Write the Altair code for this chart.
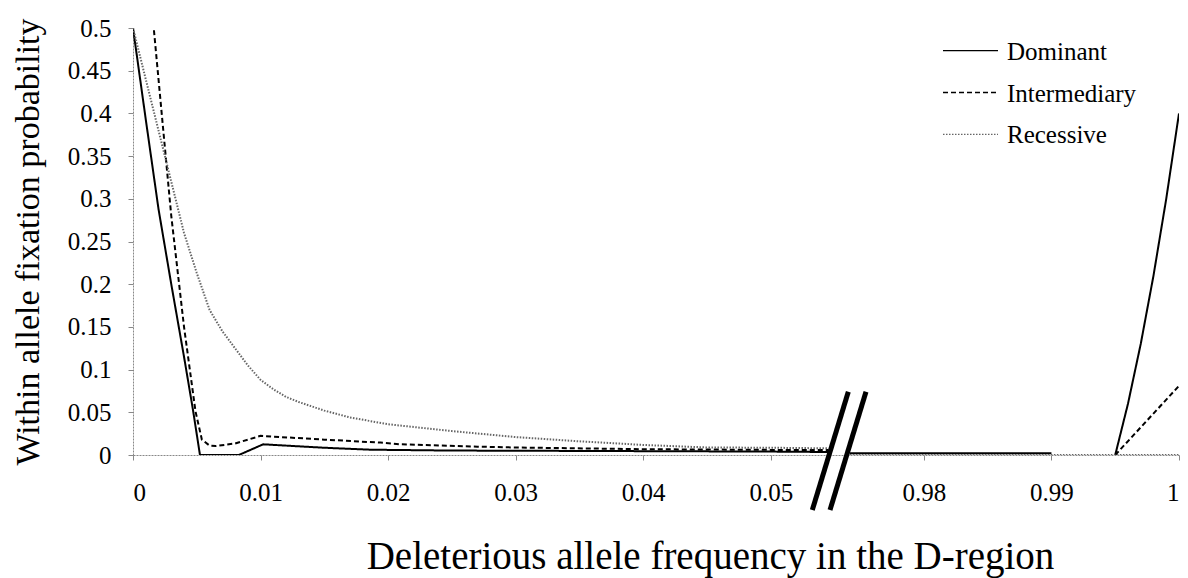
import altair as alt
import pandas as pd

series_names = ["Dominant", "Intermediary", "Recessive"]

# Dominant (solid)
dom_x = [0, 0.001, 0.002, 0.003, 0.004, 0.0047, 0.00525, 0.0083, 0.0102, 0.015, 0.0186,
         0.025, 0.03, 0.04, 0.05, 0.0545,
         0.9742, 0.99,
         0.995, 0.996, 0.997, 0.998, 0.999, 1.0]
dom_y = [0.5, 0.393, 0.288, 0.2, 0.115, 0.053, 0.0, 0.0, 0.0125, 0.0085, 0.0062,
         0.0052, 0.005, 0.0045, 0.004, 0.0035,
         0.002, 0.002,
         0.0, 0.06, 0.13, 0.21, 0.30, 0.40]
dom_seg = [0] * 16 + [1] * 2 + [2] * 6

# Intermediary (dashed)
int_x = [0.001, 0.002, 0.003, 0.004, 0.0049, 0.0054, 0.006, 0.0065, 0.008, 0.01, 0.015,
         0.0194, 0.021, 0.027, 0.03, 0.04, 0.05, 0.0545,
         0.995, 1.0]
int_y = [0.6, 0.44, 0.28, 0.15, 0.051, 0.018, 0.011, 0.0105, 0.0135, 0.0224, 0.018,
         0.0145, 0.0125, 0.0098, 0.0088, 0.0068, 0.006, 0.0058,
         0.0, 0.081]
int_seg = [0] * 18 + [2] * 2

# Recessive (dotted)
rec_x = [0, 0.001, 0.002, 0.003, 0.004, 0.005, 0.006, 0.007, 0.008, 0.009, 0.01, 0.011,
         0.012, 0.013, 0.015, 0.017, 0.02, 0.025, 0.03, 0.035, 0.04, 0.045, 0.05, 0.0545,
         0.9742, 1.0]
rec_y = [0.5, 0.44, 0.38, 0.32, 0.26, 0.213, 0.17, 0.145, 0.125, 0.105, 0.088, 0.077,
         0.068, 0.062, 0.052, 0.044, 0.036, 0.028, 0.021, 0.016, 0.0118, 0.0088, 0.0085, 0.0078,
         0.0, 0.0]
rec_seg = [0] * 24 + [1] * 2

x_ticks = [0, 0.01, 0.02, 0.03, 0.04, 0.05, 0.98, 0.99, 1.0]
y_ticks = [0, 0.05, 0.1, 0.15, 0.2, 0.25, 0.3, 0.35, 0.4, 0.45, 0.5]

BREAK_OFFSET = 0.918  # the axis jumps from 0.05 to 0.98 over 0.012 of scale

rows = []
for name, xs, ys, segs in [("Dominant", dom_x, dom_y, dom_seg),
                           ("Intermediary", int_x, int_y, int_seg),
                           ("Recessive", rec_x, rec_y, rec_seg)]:
    for x, y, s in zip(xs, ys, segs):
        rows.append({"series": name, "freq": x, "prob": y, "seg": s})
df = pd.DataFrame(rows)

tick_pos = [v - BREAK_OFFSET if v > 0.5 else v for v in x_ticks]

FONT = "Liberation Serif"

color_scale = alt.Scale(domain=series_names, range=["#000000", "#000000", "#666666"])
dash_scale = alt.Scale(domain=series_names, range=[[1, 0], [5, 3], [1.5, 1.5]])
width_scale = alt.Scale(domain=series_names, range=[2, 2, 1.2])

lines = alt.Chart(df).transform_calculate(
    xp=f"datum.freq > 0.5 ? datum.freq - {BREAK_OFFSET} : datum.freq"
).mark_line(clip=True).encode(
    x=alt.X("xp:Q", scale=alt.Scale(domain=[0, 0.082], nice=False, zero=False),
            axis=alt.Axis(values=tick_pos,
                          labelExpr=f"format(datum.value > 0.055 ? datum.value + {BREAK_OFFSET} : datum.value, '.2~f')",
                          title="Deleterious allele frequency in the D-region",
                          labelFont=FONT, labelFontSize=25, labelPadding=20,
                          titleFont=FONT, titleX=577, titleY=113, titleAlign="center",
                          titleBaseline="alphabetic", titleFontSize=39)),
    y=alt.Y("prob:Q", scale=alt.Scale(domain=[0, 0.5], nice=False),
            axis=alt.Axis(values=y_ticks, format=".2~f",
                          title="Within allele fixation probability",
                          labelFont=FONT, labelFontSize=25, labelPadding=17,
                          titleFont=FONT, titleX=-95, titleY=213.5,
                          titleAngle=270, titleAlign="center", titleBaseline="alphabetic",
                          titleFontSize=34)),
    color=alt.Color("series:N", scale=color_scale, legend=None),
    strokeDash=alt.StrokeDash("series:N", scale=dash_scale, legend=None),
    strokeWidth=alt.StrokeWidth("series:N", scale=width_scale, legend=None),
    detail="seg:N",
    order="freq:Q",
)

# manual legend (top right, inside the plot)
legend_df = pd.DataFrame({"series": series_names, "row": [0, 1, 2]})
leg_base = alt.Chart(legend_df).transform_calculate(ly="22.7 + 41.8 * datum.row")
leg_lines = leg_base.mark_rule(strokeWidth=1.3).encode(
    x=alt.value(810), x2=alt.value(865),
    y=alt.Y("ly:Q", scale=None),
    color=alt.Color("series:N", scale=color_scale, legend=None),
    strokeDash=alt.StrokeDash("series:N", scale=dash_scale, legend=None),
)
leg_text = leg_base.mark_text(align="left", baseline="middle", font=FONT, fontSize=25,
                              color="black", dy=1).encode(
    x=alt.value(874), y=alt.Y("ly:Q", scale=None), text="series:N",
)

# axis-break decoration (pixel positions within the plot area)
brk = pd.DataFrame({"bx": [715.3, 733], "bx2": [679.3, 697], "by": [363.7, 363.7], "by2": [482, 482]})
breaks = alt.Chart(brk).mark_rule(color="black", strokeWidth=5, strokeCap="butt").encode(
    x=alt.X("bx:Q", scale=None), x2="bx2:Q",
    y=alt.Y("by:Q", scale=None), y2="by2:Q",
)

chart = alt.layer(lines, leg_lines, leg_text, breaks).properties(
    width=1046, height=427,
    autosize=alt.AutoSizeParams(type="none"),
    padding={"left": 133, "top": 28, "right": 9, "bottom": 123},
).configure(font=FONT).configure_view(stroke=None).configure_axis(
    grid=False, labelFont=FONT, titleFont=FONT, labelFontSize=25, labelColor="black",
    titleColor="black", titleFontWeight="normal", domainColor="#888888", domainDash=[2, 1],
    domainWidth=1, tickColor="#888888", tickSize=5, tickWidth=1,
)

chart.save("out.html", embed_options={"renderer": "svg", "actions": False})
